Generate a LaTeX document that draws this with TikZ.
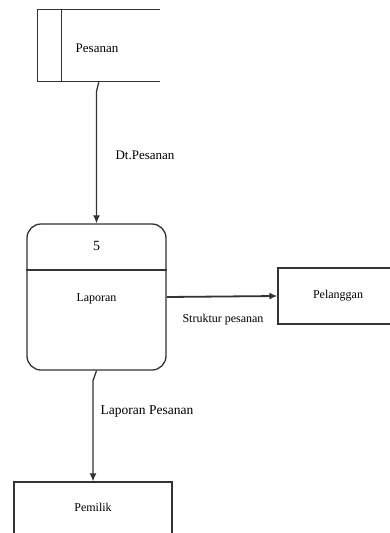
\documentclass[tikz,border=0pt]{standalone}
\usepackage{fontspec}
\setmainfont{Liberation Serif}
\usetikzlibrary{arrows.meta, positioning}

\begin{document}
\begin{tikzpicture}[
		x=1pt, y=-1pt,
		line/.style	={ draw=black!80, line width=1.3pt },
		flow/.style	={ line, -{Latex[length=8pt, width=7pt]} },
		entity/.style	={ line, rectangle, inner sep=0pt,
			font=\fontsize{12}{14}\selectfont,
		},
		process/.style	={ line, rectangle, rounded corners=14pt, inner sep=0pt,
			minimum width=139pt, minimum height=146pt,
		},
		flowlabel/.style	={ inner sep=0pt, font=\fontsize{13}{15}\selectfont },
	]
	\useasboundingbox (0,0) rectangle (390,533);
	
	% draw data store
	\node [inner sep=0pt, minimum width=122pt, minimum height=71pt] (pesanan) at (99,45.5) {};
	\node [inner sep=0pt, font=\fontsize{13}{15}\selectfont] (pesanantext) at (97,48) {Pesanan};
	\draw [line] (pesanan.north east) -- (pesanan.north west) -- (pesanan.south west) -- (pesanan.south east)
			([xshift=24pt]pesanan.north west) -- ([xshift=24pt]pesanan.south west);
	
	% draw process
	\node [process] (laporan) at (96.5,297) {};
	\draw [line] (laporan.west |- 0,270) -- (laporan.east |- 0,270);
	\node [inner sep=0pt, font=\fontsize{14}{16}\selectfont] (nomor) at (96.5,246) {5};
	\node [inner sep=0pt, font=\fontsize{12}{14}\selectfont] (laporantext) at (96.5,299) {Laporan};
	
	% draw entities
	\node [entity, minimum width=120pt, minimum height=56pt] (pelanggan) at (338,296) {Pelanggan};
	\node [entity, minimum width=158pt, minimum height=54pt] (pemilik) at (93,509) {};
	\node [inner sep=0pt, font=\fontsize{12}{14}\selectfont] (pemiliktext) at (93,507) {Pemilik};
	
	% draw flows
	\draw [flow] (pesanan.south) -- ++(-2.5,10) -- (laporan.north);
	\draw [flow, line width=1.8pt] (laporan.east) -- (pelanggan.west);
	\draw [flow] (laporan.south) -- ++(-3.5,10) -- (pemilik.north);
	
	% flow labels
	\node [flowlabel] (dtpesanan) at (145,155) {Dt.Pesanan};
	\node [flowlabel, font=\fontsize{12}{14}\selectfont] (struktur) at (223,320) {Struktur pesanan};
	\node [flowlabel, font=\fontsize{13.5}{15}\selectfont] (lappesanan) at (147,412) {Laporan Pesanan};
	
\end{tikzpicture}
\end{document}
